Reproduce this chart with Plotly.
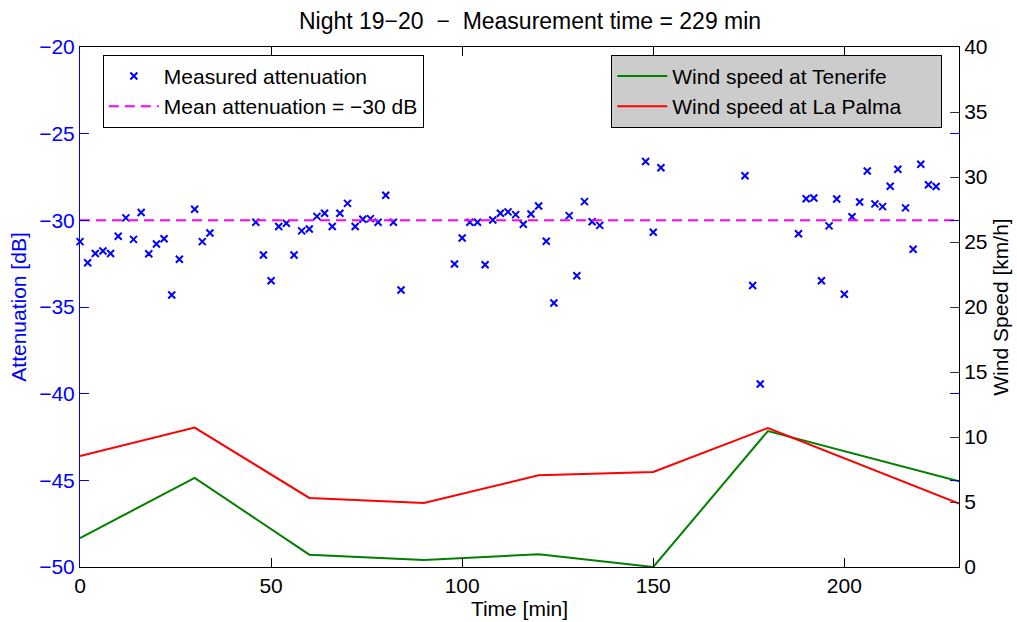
import plotly.graph_objects as go

# --- data ---
t_att = [0, 2, 4, 6, 8, 10, 12, 14, 16, 18, 20, 22, 24, 26, 30, 32, 34,
         46, 48, 50, 52, 54, 56, 58, 60, 62, 64, 66, 68, 70, 72, 74, 76, 78, 80, 82, 84,
         98, 100, 102, 104, 106, 108, 110, 112, 114, 116, 118, 120, 122, 124,
         128, 130, 132, 134, 136, 148, 150, 152, 174, 176, 178,
         188, 190, 192, 194, 196, 198, 200, 202, 204, 206, 208, 210, 212, 214, 216, 218, 220, 222, 224]
att = [-31.23, -32.45, -31.91, -31.77, -31.91, -30.92, -29.86, -31.10, -29.55, -31.93, -31.37, -31.06, -34.31, -32.25,
       -29.36, -31.23, -30.73,
       -30.11, -32.0, -33.49, -30.36, -30.17, -32.0, -30.61, -30.50, -29.77, -29.59, -30.36, -29.59, -29.02, -30.36,
       -29.94, -29.90, -30.11, -28.55, -30.11, -34.02,
       -32.52, -31.02, -30.11, -30.11, -32.56, -29.98, -29.59, -29.51, -29.67, -30.23, -29.63, -29.17, -31.21, -34.77,
       -29.73, -33.20, -28.92, -30.08, -30.29,
       -26.61, -30.69, -26.97,
       -27.43, -33.76, -39.44,
       -30.77, -28.75, -28.71, -33.49, -30.32, -28.77, -34.26, -29.79, -28.94, -27.15, -29.05, -29.21, -28.03, -27.05,
       -29.28, -31.67, -26.76, -27.95, -28.05]
mean_att = -30
t_mean = [0, 230]

t_wind = [0, 30, 60, 90, 120, 150, 180, 230]
wind_tenerife = [2.23, 6.85, 0.95, 0.54, 0.98, 0.0, 10.46, 6.59]
wind_lapalma = [8.54, 10.72, 5.31, 4.92, 7.05, 7.31, 10.69, 4.87]

x_ticks = [0, 50, 100, 150, 200]
y1_ticks = [-50, -45, -40, -35, -30, -25, -20]
y2_ticks = [0, 5, 10, 15, 20, 25, 30, 35, 40]

FONT = "Liberation Sans, Arial, sans-serif"
FS = 21
BLUE = "#0000ff"
PAD = "\u00a0" * 6

fig = go.Figure()
fig.add_trace(go.Scatter(x=t_att, y=att, mode="markers", name="Measured attenuation",
                         marker=dict(symbol="x-thin", size=7, color=BLUE, line=dict(color=BLUE, width=2)),
                         legend="legend", yaxis="y", cliponaxis=False))
fig.add_trace(go.Scatter(x=t_mean, y=[mean_att] * len(t_mean), mode="lines",
                         name="Mean attenuation = \u221230 dB",
                         line=dict(color="#ff00ff", width=2, dash="10px,6px"),
                         legend="legend", yaxis="y"))
fig.add_trace(go.Scatter(x=t_wind, y=wind_tenerife, mode="lines", name="Wind speed at Tenerife",
                         line=dict(color="#008000", width=2), legend="legend2", yaxis="y2"))
fig.add_trace(go.Scatter(x=t_wind, y=wind_lapalma, mode="lines", name="Wind speed at La Palma" + PAD,
                         line=dict(color="#ff0000", width=2), legend="legend2", yaxis="y2"))

fig.update_layout(
    width=1017, height=622,
    margin=dict(l=80, r=58, t=47, b=55),
    paper_bgcolor="white", plot_bgcolor="white",
    font=dict(family=FONT, size=FS, color="black"),
    title=dict(text="Night 19\u221220  \u2212  Measurement time = 229 min",
               x=0.512, xref="paper", xanchor="center", y=0.966, yanchor="middle",
               font=dict(family=FONT, size=23, color="black")),
    showlegend=True,
    xaxis=dict(range=[0, 230], tickvals=x_ticks, ticks="inside", ticklen=9, tickcolor="black",
               showline=True, linecolor="black", linewidth=1, mirror="ticks", showgrid=False,
               zeroline=False, tickfont=dict(size=FS, color="black"), automargin=False,
               title=dict(text="Time [min]", standoff=0, font=dict(size=FS, color="black"))),
    yaxis=dict(range=[-50, -20], tickvals=y1_ticks, ticks="inside", ticklen=9, tickcolor=BLUE,
               showline=True, linecolor=BLUE, linewidth=1, mirror="ticks", showgrid=False,
               zeroline=False, tickfont=dict(size=FS, color=BLUE), automargin=False,
               title=dict(text="Attenuation [dB]", standoff=6, font=dict(size=FS, color=BLUE))),
    yaxis2=dict(range=[0, 40], tickvals=y2_ticks, ticks="inside", ticklen=9, tickcolor="#333333",
                overlaying="y", side="right", showline=True, linecolor="black", linewidth=1,
                showgrid=False, zeroline=False, tickfont=dict(size=FS, color="black"), automargin=False,
                title=dict(text="Wind Speed [km/h]", standoff=6, font=dict(size=FS, color="black"))),
    legend=dict(x=0.026, y=0.985, xanchor="left", yanchor="top", bgcolor="white",
                bordercolor="black", borderwidth=1, font=dict(size=FS, color="black"),
                tracegroupgap=0, itemwidth=50),
    legend2=dict(x=0.981, y=0.985, xanchor="right", yanchor="top", bgcolor="#cccccc",
                 bordercolor="black", borderwidth=1, font=dict(size=FS, color="black"),
                 tracegroupgap=0, itemwidth=50),
)

fig.write_html("out.html")
